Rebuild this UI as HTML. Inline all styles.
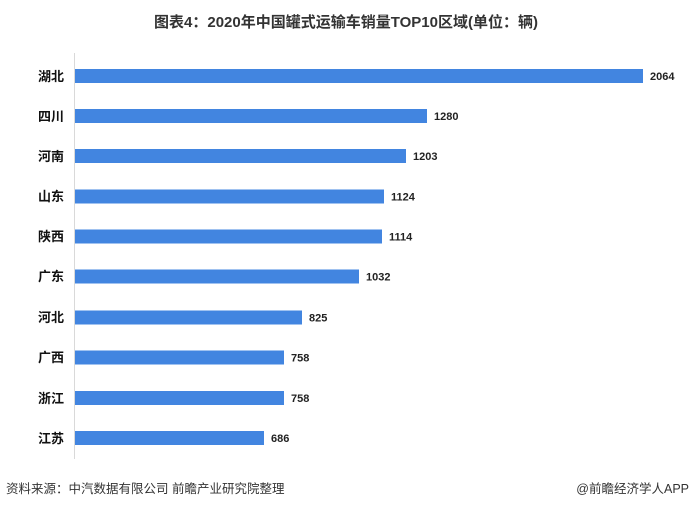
<!DOCTYPE html>
<html><head><meta charset="utf-8"><style>
body{margin:0;background:#fff;}
svg{display:block;font-family:"Liberation Sans","Noto Sans CJK SC",sans-serif;}
</style></head><body>
<svg width="692" height="509" viewBox="0 0 692 509">
<rect width="692" height="509" fill="#fff"/>
<text x="346" y="27" text-anchor="middle" font-size="15" font-weight="bold" fill="#333">图表4：2020年中国罐式运输车销量TOP10区域(单位：辆)</text>
<line x1="74.5" y1="53" x2="74.5" y2="459" stroke="#d9d9d9" stroke-width="1"/>
<g fill="#4285e0">
<rect x="75" y="69" width="568" height="14"/>
<rect x="75" y="109" width="352" height="14"/>
<rect x="75" y="149" width="331" height="14"/>
<rect x="75" y="189.5" width="309" height="14"/>
<rect x="75" y="229.5" width="307" height="14"/>
<rect x="75" y="269.5" width="284" height="14"/>
<rect x="75" y="310.5" width="227" height="14"/>
<rect x="75" y="350.5" width="209" height="14"/>
<rect x="75" y="391" width="209" height="14"/>
<rect x="75" y="431" width="189" height="14"/>
</g>
<g font-size="13" font-weight="bold" fill="#111" text-anchor="end">
<text x="64" y="81">湖北</text>
<text x="64" y="121">四川</text>
<text x="64" y="161">河南</text>
<text x="64" y="201">山东</text>
<text x="64" y="241">陕西</text>
<text x="64" y="281">广东</text>
<text x="64" y="322">河北</text>
<text x="64" y="362">广西</text>
<text x="64" y="403">浙江</text>
<text x="64" y="443">江苏</text>
</g>
<g font-size="11" font-weight="bold" fill="#222">
<text x="650" y="80">2064</text>
<text x="434" y="120">1280</text>
<text x="413" y="160">1203</text>
<text x="391" y="200.5">1124</text>
<text x="389" y="240.5">1114</text>
<text x="366" y="280.5">1032</text>
<text x="309" y="321.5">825</text>
<text x="291" y="361.5">758</text>
<text x="291" y="402">758</text>
<text x="271" y="442">686</text>
</g>
<text x="6" y="493" font-size="12.5" fill="#333">资料来源：中汽数据有限公司 前瞻产业研究院整理</text>
<text x="689" y="493" font-size="12.5" fill="#333" text-anchor="end">@前瞻经济学人APP</text>
</svg>
</body></html>
